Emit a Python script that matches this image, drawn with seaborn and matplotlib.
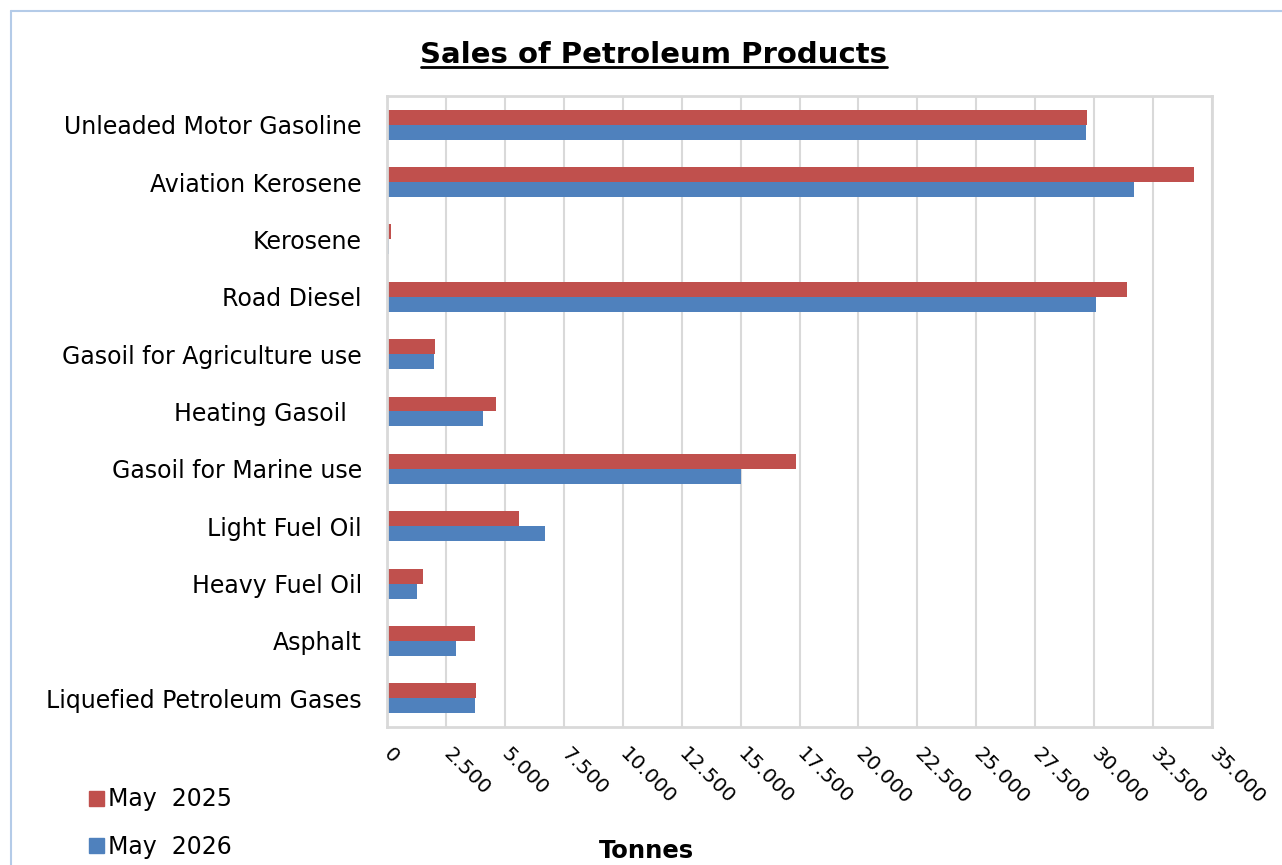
import matplotlib
matplotlib.use("Agg")
import matplotlib.pyplot as plt
import matplotlib.patches as mpatches
import matplotlib.ticker as mticker
import seaborn as sns
import pandas as pd

categories = [
    "Unleaded Motor Gasoline",
    "Aviation Kerosene",
    "Kerosene",
    "Road Diesel",
    "Gasoil for Agriculture use",
    "Heating Gasoil  ",
    "Gasoil for Marine use",
    "Light Fuel Oil",
    "Heavy Fuel Oil",
    "Asphalt",
    "Liquefied Petroleum Gases",
]
may_2025 = [29710, 34250, 150, 31380, 2020, 4610, 17350, 5590, 1540, 3720, 3790]
may_2026 = [29640, 31690, 90, 30090, 1980, 4060, 15010, 6690, 1260, 2930, 3750]
series_names = ["May  2025", "May  2026"]
colors = ["#C0504D", "#4F81BD"]
x_ticks = list(range(0, 35001, 2500))

df = pd.DataFrame({
    "Product": categories * 2,
    "Tonnes": may_2025 + may_2026,
    "Period": [series_names[0]] * len(categories) + [series_names[1]] * len(categories),
})

sns.set_theme(style="white")
plt.rcParams["font.family"] = ["DejaVu Sans"]

fig = plt.figure(figsize=(12.82, 8.65), dpi=100)
ax = fig.add_axes([387 / 1282, 1 - 727 / 865, 825 / 1282, (727 - 96) / 865])

sns.barplot(
    data=df, y="Product", x="Tonnes", hue="Period", order=categories,
    hue_order=series_names, palette=colors, width=0.52, orient="h",
    ax=ax, legend=False, saturation=1, edgecolor="none",
)

ax.set_xlim(0, 35000)
ax.set_xticks(x_ticks)
ax.xaxis.set_major_formatter(mticker.FuncFormatter(lambda v, p: f"{int(v):,}".replace(",", ".")))
ax.grid(axis="x", color="#d9d9d9", linewidth=1.5)
ax.set_axisbelow(True)
for s in ax.spines.values():
    s.set_color("#d9d9d9")
    s.set_linewidth(2)
ax.tick_params(axis="y", length=0, pad=18, labelsize=17, labelcolor="black")
ax.tick_params(axis="x", length=0, pad=17, labelsize=14.5, labelcolor="black")
for lab in ax.get_xticklabels():
    lab.set_rotation(-45)
    lab.set_ha("left")
    lab.set_va("center")
    lab.set_rotation_mode("anchor")
ax.set_ylabel("")
ax.set_xlabel("")

fig.text(654 / 1282, 1 - 63 / 865, "Sales of Petroleum Products", ha="center", va="baseline",
         fontsize=21, fontweight="bold", color="black")
# underline
fig.add_artist(plt.Line2D([421 / 1282, 887 / 1282], [1 - 67 / 865, 1 - 67 / 865],
                          color="black", linewidth=2))
fig.text(646 / 1282, 1 - 851 / 865, "Tonnes", ha="center", va="center",
         fontsize=17.5, fontweight="bold", color="black")

handles = [mpatches.Patch(color=c, label=n) for c, n in zip(colors, series_names)]
leg = fig.legend(handles=handles, loc="upper left", bbox_to_anchor=(80 / 1282, 1 - 778 / 865),
                 frameon=False, fontsize=17, handlelength=0.6, handleheight=0.6,
                 handletextpad=0.2, labelspacing=1.0, borderaxespad=0)
for t in leg.get_texts():
    t.set_color("black")

# chart-area border (top and left visible)
fig.add_artist(plt.Line2D([10.5 / 1282, 10.5 / 1282], [0, 1 - 11 / 865], color="#b4cbe8", linewidth=1.5))
fig.add_artist(plt.Line2D([10.5 / 1282, 1], [1 - 11 / 865, 1 - 11 / 865], color="#b4cbe8", linewidth=1.5))

fig.savefig("out.png", dpi=100)
